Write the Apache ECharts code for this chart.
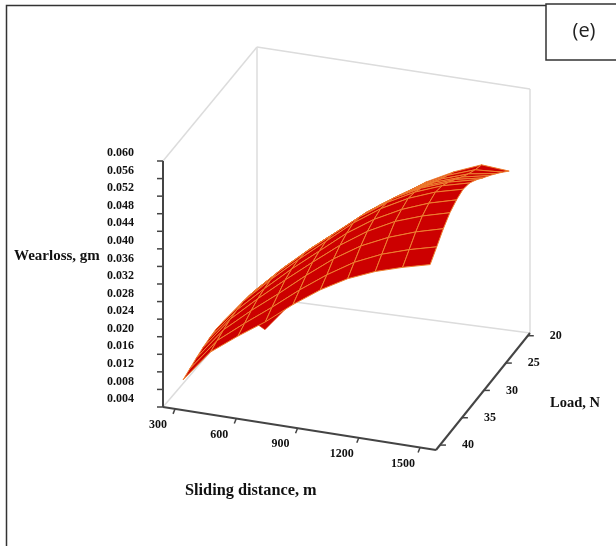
<!DOCTYPE html>
<html>
<head>
<meta charset="utf-8">
<style>html,body{margin:0;padding:0;background:#fff}#c{width:616px;height:546px;filter:blur(0.45px)}</style>
<script src="https://cdn.jsdelivr.net/npm/echarts@6/dist/echarts.min.js"></script>
</head>
<body>
<div id="c"></div>
<script>
// ---- tick labels ----
var wearTicks = ['0.004','0.008','0.012','0.016','0.020','0.024','0.028','0.032','0.036','0.040','0.044','0.048','0.052','0.056','0.060'];
var distanceTicks = [300,600,900,1200,1500];
var loadTicks = [20,25,30,35,40];
// ---- surface grid, values ----
var surfaceDistances = [320,454,589,723,858,992,1126,1261,1395,1530];
var surfaceLoads = [40,38.5,37,35.5,34,32.5,31,29.5,28,26.5,25,23.5,22];
var wearD320  = [.0097,.0104,.0111,.0117,.0121,.0124,.0122,.0119,.0115,.0111,.0108,.0104,.0099];
var wearD454  = [.0170,.0178,.0185,.0191,.0194,.0196,.0193,.0188,.0182,.0175,.0169,.0163,.0156];
var wearD589  = [.0216,.0227,.0238,.0247,.0252,.0255,.0253,.0247,.0239,.0231,.0223,.0214,.0205];
var wearD723  = [.0258,.0273,.0286,.0299,.0306,.0309,.0307,.0300,.0291,.0283,.0274,.0264,.0254];
var wearD858  = [.0307,.0322,.0337,.0349,.0356,.0360,.0357,.0349,.0340,.0330,.0320,.0310,.0299];
var wearD992  = [.0350,.0366,.0384,.0397,.0406,.0411,.0407,.0399,.0389,.0379,.0368,.0356,.0346];
var wearD1126 = [.0385,.0404,.0423,.0438,.0447,.0453,.0449,.0441,.0430,.0419,.0408,.0397,.0387];
var wearD1261 = [.0411,.0432,.0452,.0470,.0479,.0486,.0482,.0473,.0461,.0450,.0439,.0429,.0419];
var wearD1395 = [.0430,.0452,.0474,.0492,.0503,.0510,.0506,.0496,.0484,.0471,.0460,.0451,.0444];
var wearD1530 = [.0446,.0468,.0491,.0509,.0520,.0526,.0522,.0511,.0497,.0484,.0470,.0455,.0439];
var wearTable = [wearD320,wearD454,wearD589,wearD723,wearD858,wearD992,wearD1126,wearD1261,wearD1395,wearD1530];
// small fold on the front edge of the surface: [distance, load, wear]
var foldPoints = [[686,40,.0249],[721,40,.0240],[829,40,.0298]];
// ---- axis ranges of the 3D box ----
var dRange = [241,1578], lRange = [19.5,40.9], wRange = [.004,.060];

// oblique projection of the box onto the page (screen points of the box corners)
function project(d,l,w){
  var u=(d-dRange[0])/(dRange[1]-dRange[0]);
  var v=(lRange[1]-l)/(lRange[1]-lRange[0]);
  var t=(w-wRange[0])/(wRange[1]-wRange[0]);
  var x=163+273*u+94*v;
  var floor=407+43*u-110*v-7*u*v;
  var top=161+42*u-114*v;
  return [x,floor+(top-floor)*t];
}
var D0=dRange[0],D1=dRange[1],L0=lRange[0],L1=lRange[1],W0=wRange[0],W1=wRange[1];
var backEdges=[
  [[D0,L1,W1],[D0,L0,W1]],[[D0,L0,W1],[D1,L0,W1]],[[D1,L0,W1],[D1,L0,W0]],
  [[D1,L0,W0],[D0,L0,W0]],[[D0,L0,W0],[D0,L0,W1]],[[D0,L0,W0],[D0,L1,W0]]
];
var axisEdges=[
  [[D0,L1,W0],[D0,L1,W1]],[[D0,L1,W0],[D1,L1,W0]],[[D1,L1,W0],[D1,L0,W0]]
];
function lineSeries(edges,color,width,z){
  return {type:'custom',coordinateSystem:'cartesian2d',clip:false,silent:true,z:z,
    data:edges.map(function(e,i){return [i];}),
    encode:{x:[],y:[]},
    renderItem:function(p,api){
      var e=edges[api.value(0)],a=api.coord(project.apply(null,e[0])),b=api.coord(project.apply(null,e[1]));
      return {type:'line',shape:{x1:a[0],y1:a[1],x2:b[0],y2:b[1]},style:{stroke:color,lineWidth:width}};
    }};
}
// surface cells, far row first
var cells=[];
for(var j=surfaceLoads.length-2;j>=0;j--){
  for(var i=0;i<surfaceDistances.length-1;i++){cells.push([i,j]);}
}
function gridPoint(i,j){return project(surfaceDistances[i],surfaceLoads[j],wearTable[i][j]);}
var surface={type:'custom',coordinateSystem:'cartesian2d',clip:false,silent:true,z:5,
  data:cells,encode:{x:[],y:[]},
  renderItem:function(p,api){
    var i=api.value(0),j=api.value(1);
    var pts=[gridPoint(i,j),gridPoint(i+1,j),gridPoint(i+1,j+1),gridPoint(i,j+1)].map(function(q){return api.coord(q);});
    return {type:'polygon',shape:{points:pts},style:{fill:'#cc0000',stroke:'#ee8030',lineWidth:1,lineJoin:'round'}};
  }};
var fold={type:'custom',coordinateSystem:'cartesian2d',clip:false,silent:true,z:4,
  data:[[0]],encode:{x:[],y:[]},
  renderItem:function(p,api){
    var pts=foldPoints.map(function(q){return api.coord(project(q[0],q[1],q[2]));});
    return {type:'polygon',shape:{points:pts},style:{fill:'#cc0000',stroke:'#e04a10',lineWidth:.6}};
  }};
var serif='"Liberation Serif","Times New Roman",serif';
// ticks and tick labels
var tickItems=[];
wearTicks.forEach(function(t){tickItems.push({pos:[D0,L1,+t],dx:-6,dy:0,lx:-29,ly:-8,text:t,align:'right'});});
distanceTicks.forEach(function(t){tickItems.push({pos:[t,L1,W0],dx:-2,dy:5,lx:-17,ly:16,text:String(t),align:'center'});});
loadTicks.forEach(function(t){tickItems.push({pos:[D1,t,W0],dx:6,dy:0,lx:28,ly:0,text:String(t),align:'center'});});
var ticks={type:'custom',coordinateSystem:'cartesian2d',clip:false,silent:true,z:7,
  data:tickItems.map(function(e,i){return [i];}),encode:{x:[],y:[]},
  renderItem:function(p,api){
    var it=tickItems[api.value(0)],c=api.coord(project.apply(null,it.pos));
    return {type:'group',children:[
      {type:'line',shape:{x1:c[0],y1:c[1],x2:c[0]+it.dx,y2:c[1]+it.dy},style:{stroke:'#444',lineWidth:1.5}},
      {type:'text',x:c[0]+it.lx,y:c[1]+it.ly,style:{text:it.text,fill:'#111',font:'bold 12px '+serif,textAlign:it.align,textVerticalAlign:'middle'}}
    ]};
  }};
var chart=echarts.init(document.getElementById('c'),null,{renderer:'canvas'});
chart.setOption({
  animation:false,backgroundColor:'#fff',
  grid:{left:0,right:0,top:0,bottom:0},
  xAxis:{type:'value',min:0,max:616,show:false},
  yAxis:{type:'value',min:0,max:546,inverse:true,show:false},
  series:[
    lineSeries(backEdges,'#dcdcdc',1.5,2),
    fold,surface,
    lineSeries(axisEdges,'#444',2,6),
    ticks
  ],
  graphic:[
    {type:'polyline',shape:{points:[[6.5,546],[6.5,5.5],[546,5.5]]},style:{stroke:'#333',lineWidth:1.5,fill:null}},
    {type:'rect',shape:{x:546,y:4,width:72,height:56},style:{fill:'#fff',stroke:'#333',lineWidth:1.5}},
    {type:'text',x:584,y:31,style:{text:'(e)',fill:'#222',font:'20px "Open Sans","Noto Sans",sans-serif',textAlign:'center',textVerticalAlign:'middle'}},
    {type:'text',x:14,y:256,style:{text:'Wearloss, gm',fill:'#111',font:'bold 15px '+serif,textVerticalAlign:'middle'}},
    {type:'text',x:185,y:491,style:{text:'Sliding distance, m',fill:'#111',font:'bold 16.3px '+serif,textVerticalAlign:'middle'}},
    {type:'text',x:550,y:403,style:{text:'Load, N',fill:'#111',font:'bold 14.5px '+serif,textVerticalAlign:'middle'}}
  ]
});
</script>
</body>
</html>
